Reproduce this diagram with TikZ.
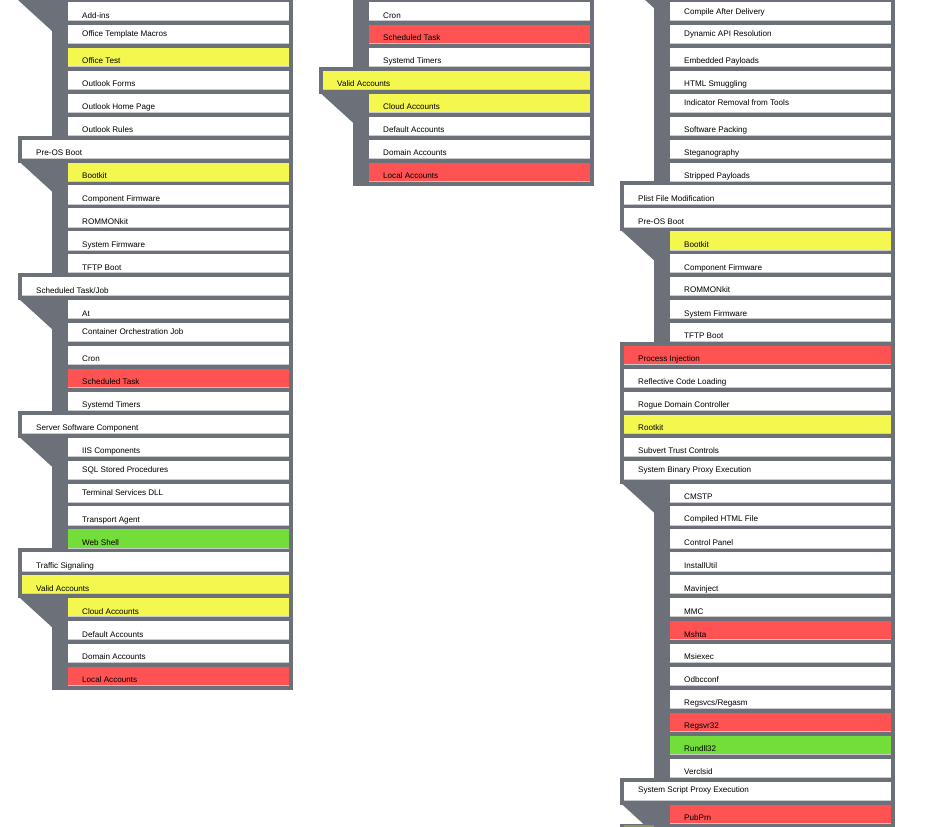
\documentclass[tikz,border=0pt]{standalone}
\usepackage{fontspec}
\setmainfont{Liberation Sans}
\pgfdeclarelayer{base}
\pgfdeclarelayer{bg}
\pgfsetlayers{base,bg,main}
\definecolor{gr}{HTML}{6C7079}
\definecolor{yl}{HTML}{F3F74E}
\definecolor{rd}{HTML}{FF5353}
\definecolor{gn}{HTML}{73DE3A}
\definecolor{ol}{HTML}{8C9660}
\definecolor{edgec}{HTML}{C9CBCF}
\tikzset{
  cell/.style={draw=none, inner sep=0pt, outer sep=0pt, anchor=north west, minimum height=19pt},
  pcell/.style={cell, minimum width=267pt},
  scell/.style={cell, minimum width=221pt},
  lbl/.style={font=\fontsize{8.1}{9}\selectfont, inner sep=0pt, anchor=mid west, text=black, yshift=-0.8pt},
  edgeline/.style={draw=edgec, line width=0.8pt},
}
% parent row: X0, index, name, colour, text, text offset
\newcommand{\prow}[6]{%
  \pgfmathsetmacro\tp{2+22.93*#2}%
  \begin{pgfonlayer}{bg}\fill[gr] (#1,\tp-4) rectangle (#1+275,\tp+23);\end{pgfonlayer}%
  \node[pcell, fill=#4] (#3) at (#1+4,\tp) {};%
  \draw[edgeline] ([yshift=0.4pt]#3.south west) -- ([yshift=0.4pt]#3.south east);%
  \node[lbl] (#3-t) at (#1+18,\tp+#6) {#5};%
}
% sub row
\newcommand{\srow}[6]{%
  \pgfmathsetmacro\tp{2+22.93*#2}%
  \begin{pgfonlayer}{bg}\fill[gr] (#1+34,\tp-4) rectangle (#1+275,\tp+23);\end{pgfonlayer}%
  \node[scell, fill=#4] (#3) at (#1+50,\tp) {};%
  \draw[edgeline] ([yshift=0.4pt]#3.south west) -- ([yshift=0.4pt]#3.south east);%
  \node[lbl] (#3-t) at (#1+64,\tp+#6) {#5};%
}
% chevron before first sub row
\newcommand{\chev}[2]{%
  \pgfmathsetmacro\tq{22.93*#2}%
  \begin{pgfonlayer}{bg}\fill[gr] (#1,\tq) -- (#1+34,\tq) -- (#1+34,\tq+31) -- cycle;\end{pgfonlayer}%
}
\begin{document}
\begin{tikzpicture}[x=1pt,y=-1pt]
\useasboundingbox (0,0) rectangle (937,827);
\clip (0,0) rectangle (937,827);
\begin{pgfonlayer}{base}\fill[white] (0,0) rectangle (937,827);\end{pgfonlayer}
% ---------- left column ----------
\chev{18}{0}
\srow{18}{0}{l0}{white}{Add-ins}{12.8}
\srow{18}{1}{l1}{white}{Office Template Macros}{8.3}
\srow{18}{2}{l2}{yl}{Office Test}{12.5}
\srow{18}{3}{l3}{white}{Outlook Forms}{12.5}
\srow{18}{4}{l4}{white}{Outlook Home Page}{12.5}
\srow{18}{5}{l5}{white}{Outlook Rules}{12.5}
\prow{18}{6}{l6}{white}{Pre-OS Boot}{12.5}
\chev{18}{7}
\srow{18}{7}{l7}{yl}{Bootkit}{12.5}
\srow{18}{8}{l8}{white}{Component Firmware}{12.5}
\srow{18}{9}{l9}{white}{ROMMONkit}{12.5}
\srow{18}{10}{l10}{white}{System Firmware}{12.5}
\srow{18}{11}{l11}{white}{TFTP Boot}{12.5}
\prow{18}{12}{l12}{white}{Scheduled Task/Job}{12.5}
\chev{18}{13}
\srow{18}{13}{l13}{white}{At}{12.5}
\srow{18}{14}{l14}{white}{Container Orchestration Job}{8.3}
\srow{18}{15}{l15}{white}{Cron}{12.5}
\srow{18}{16}{l16}{rd}{Scheduled Task}{12.5}
\srow{18}{17}{l17}{white}{Systemd Timers}{12.5}
\prow{18}{18}{l18}{white}{Server Software Component}{12.5}
\chev{18}{19}
\srow{18}{19}{l19}{white}{IIS Components}{12.5}
\srow{18}{20}{l20}{white}{SQL Stored Procedures}{8.3}
\srow{18}{21}{l21}{white}{Terminal Services DLL}{8.5}
\srow{18}{22}{l22}{white}{Transport Agent}{12.5}
\srow{18}{23}{l23}{gn}{Web Shell}{12.5}
\prow{18}{24}{l24}{white}{Traffic Signaling}{12.5}
\prow{18}{25}{l25}{yl}{Valid Accounts}{12.5}
\chev{18}{26}
\srow{18}{26}{l26}{yl}{Cloud Accounts}{12.5}
\srow{18}{27}{l27}{white}{Default Accounts}{12.5}
\srow{18}{28}{l28}{white}{Domain Accounts}{12.5}
\srow{18}{29}{l29}{rd}{Local Accounts}{12.5}
% ---------- middle column ----------
\srow{319}{0}{m0}{white}{Cron}{12.8}
\srow{319}{1}{m1}{rd}{Scheduled Task}{12}
\srow{319}{2}{m2}{white}{Systemd Timers}{12.5}
\prow{319}{3}{m3}{yl}{Valid Accounts}{12.5}
\chev{319}{4}
\srow{319}{4}{m4}{yl}{Cloud Accounts}{12.5}
\srow{319}{5}{m5}{white}{Default Accounts}{12.5}
\srow{319}{6}{m6}{white}{Domain Accounts}{12.5}
\srow{319}{7}{m7}{rd}{Local Accounts}{12.5}
% ---------- right column ----------
\chev{620}{-1}
\srow{620}{0}{r0}{white}{Compile After Delivery}{9.3}
\srow{620}{1}{r1}{white}{Dynamic API Resolution}{8.3}
\srow{620}{2}{r2}{white}{Embedded Payloads}{12.5}
\srow{620}{3}{r3}{white}{HTML Smuggling}{12.5}
\srow{620}{4}{r4}{white}{Indicator Removal from Tools}{8.3}
\srow{620}{5}{r5}{white}{Software Packing}{12.5}
\srow{620}{6}{r6}{white}{Steganography}{12.5}
\srow{620}{7}{r7}{white}{Stripped Payloads}{12.5}
\prow{620}{8}{r8}{white}{Plist File Modification}{12.5}
\prow{620}{9}{r9}{white}{Pre-OS Boot}{12.5}
\chev{620}{10}
\srow{620}{10}{r10}{yl}{Bootkit}{12.5}
\srow{620}{11}{r11}{white}{Component Firmware}{12.5}
\srow{620}{12}{r12}{white}{ROMMONkit}{12}
\srow{620}{13}{r13}{white}{System Firmware}{12.5}
\srow{620}{14}{r14}{white}{TFTP Boot}{12.5}
\prow{620}{15}{r15}{rd}{Process Injection}{12.5}
\prow{620}{16}{r16}{white}{Reflective Code Loading}{12.5}
\prow{620}{17}{r17}{white}{Rogue Domain Controller}{12.5}
\prow{620}{18}{r18}{yl}{Rootkit}{12.5}
\prow{620}{19}{r19}{white}{Subvert Trust Controls}{12.5}
\prow{620}{20}{r20}{white}{System Binary Proxy Execution}{8.3}
\chev{620}{21}
\srow{620}{21}{r21}{white}{CMSTP}{12.5}
\srow{620}{22}{r22}{white}{Compiled HTML File}{12}
\srow{620}{23}{r23}{white}{Control Panel}{12.5}
\srow{620}{24}{r24}{white}{InstallUtil}{12.5}
\srow{620}{25}{r25}{white}{Mavinject}{12.5}
\srow{620}{26}{r26}{white}{MMC}{12.5}
\srow{620}{27}{r27}{rd}{Mshta}{12.5}
\srow{620}{28}{r28}{white}{Msiexec}{12.5}
\srow{620}{29}{r29}{white}{Odbcconf}{12.5}
\srow{620}{30}{r30}{white}{Regsvcs/Regasm}{12.5}
\srow{620}{31}{r31}{rd}{Regsvr32}{12.5}
\srow{620}{32}{r32}{gn}{Rundll32}{12}
\srow{620}{33}{r33}{white}{Verclsid}{12.5}
\prow{620}{34}{r34}{white}{System Script Proxy Execution}{7.8}
\chev{620}{35}
\srow{620}{35}{r35}{rd}{PubPrn}{12}
\fill[gr] (620,823.6) rectangle (894,827);
\fill[ol] (624,825) rectangle (654,827);
\end{tikzpicture}
\end{document}
